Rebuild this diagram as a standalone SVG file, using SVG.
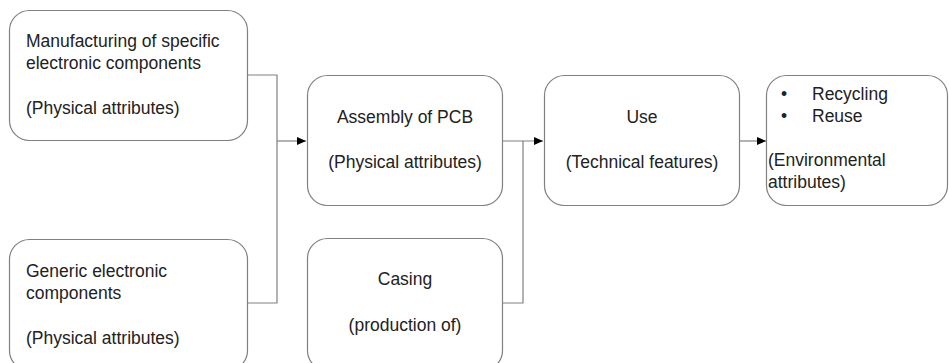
<svg xmlns="http://www.w3.org/2000/svg" width="949" height="363" viewBox="0 0 949 363">
<style>
.box{fill:#fff;stroke:#808080;stroke-width:1.2}
.t{font-family:"Liberation Sans",Arial,sans-serif;font-size:17.5px;fill:#222}
.c{text-anchor:middle}
.ln{fill:none;stroke:#808080;stroke-width:1.2}
</style>
<defs>
<marker id="ah" markerWidth="10" markerHeight="8" refX="9" refY="4" orient="auto" markerUnits="userSpaceOnUse">
<path d="M0,0 L9,4 L0,8 Z" fill="#000"/>
</marker>
</defs>
<rect width="949" height="363" fill="#fff"/>
<g id="connectors">
<path class="ln" d="M248,75 H277 V303 H248"/>
<path class="ln" d="M277,141 H306" marker-end="url(#ah)"/>
<path class="ln" d="M502,303 H523 V141"/>
<path class="ln" d="M502,141 H543" marker-end="url(#ah)"/>
<path class="ln" d="M739,141 H766" marker-end="url(#ah)"/>
</g>
<g id="n-manufacturing">
<rect class="box" x="9.5" y="10.5" width="238" height="130" rx="20"/>
<text class="t" x="26" y="47">Manufacturing of specific</text>
<text class="t" x="26" y="69">electronic components</text>
<text class="t" x="26" y="114">(Physical attributes)</text>
</g>
<g id="n-generic">
<rect class="box" x="9.5" y="239.5" width="238" height="131" rx="20"/>
<text class="t" x="26" y="277">Generic electronic</text>
<text class="t" x="26" y="299">components</text>
<text class="t" x="26" y="344">(Physical attributes)</text>
</g>
<g id="n-assembly">
<rect class="box" x="307.5" y="75.5" width="195" height="130" rx="20"/>
<text class="t c" x="405" y="123">Assembly of PCB</text>
<text class="t c" x="405" y="168">(Physical attributes)</text>
</g>
<g id="n-casing">
<rect class="box" x="307.5" y="238.5" width="195" height="132" rx="20"/>
<text class="t c" x="405" y="285">Casing</text>
<text class="t c" x="405" y="331">(production of)</text>
</g>
<g id="n-use">
<rect class="box" x="544.5" y="75.5" width="195" height="130" rx="20"/>
<text class="t c" x="642" y="123">Use</text>
<text class="t c" x="642" y="168">(Technical features)</text>
</g>
<g id="n-recycling">
<rect class="box" x="766.5" y="75.5" width="181" height="130" rx="20"/>
<text class="t" x="781" y="100">•</text>
<text class="t" x="812" y="100">Recycling</text>
<text class="t" x="781" y="122">•</text>
<text class="t" x="812" y="122">Reuse</text>
<text class="t" x="768" y="166">(Environmental</text>
<text class="t" x="768" y="188">attributes)</text>
</g>
</svg>
